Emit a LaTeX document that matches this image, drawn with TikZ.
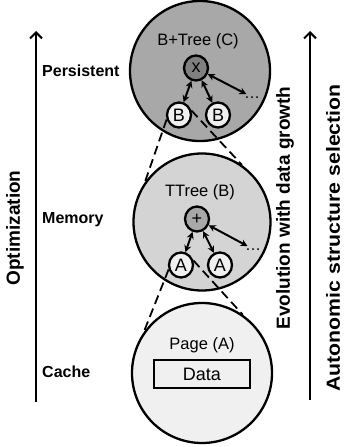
\documentclass[tikz,border=0pt]{standalone}
\usepackage{fontspec}
\setmainfont{Liberation Sans}
\usetikzlibrary{arrows.meta,shapes.geometric}
\definecolor{gTop}{gray}{0.66}
\definecolor{gMid}{gray}{0.83}
\definecolor{gBot}{gray}{0.94}
\definecolor{gX}{gray}{0.5}
\definecolor{gPlus}{gray}{0.66}
\definecolor{gLeaf}{gray}{0.94}
\begin{document}
\begin{tikzpicture}[x=1pt,y=-1pt,
  level/.style={draw, line width=2.3pt, circle, minimum size=140pt, inner sep=0pt},
  tnode/.style={draw, line width=2.3pt, ellipse, inner sep=0pt, minimum width=24pt, minimum height=25pt, font=\fontsize{18}{18}\selectfont},
  title/.style={font=\fontsize{16.5}{16.5}\selectfont, inner sep=0pt},
  link/.style={line width=2pt, {Stealth[length=7pt,width=7pt]}-{Stealth[length=7pt,width=7pt]}},
  zoomline/.style={line width=1.8pt, dash pattern=on 9pt off 5pt},
  lab/.style={font=\fontsize{16}{16}\selectfont\bfseries, anchor=west, inner sep=0pt},
  side/.style={font=\fontsize{19}{19}\selectfont\bfseries, rotate=90, inner sep=0pt},
  axis/.style={line width=2pt, -{Straight Barb[length=6pt,width=12pt,line width=2pt]}},
  dotsn/.style={font=\fontsize{16}{16}\selectfont, inner sep=2pt, anchor=base west}
]
\useasboundingbox (0,0) rectangle (344,447);

% level circles
\node[level, fill=gTop] (C) at (200,71) {};
\node[level, fill=gMid, minimum size=137pt] (Bc) at (202,222) {};
\node[level, fill=gBot] (Ac) at (202,373) {};

% top: B+Tree
\node[title] (tC) at (198,41) {B+Tree (C)};
\node[tnode, fill=gX] (x) at (196,68) {x};
\node[tnode, fill=gLeaf] (b1) at (179,115) {B};
\node[tnode, fill=gLeaf] (b2) at (218,115) {B};
\node[dotsn] (d1) at (242,98) {\ldots};
\draw[link] (x) -- (b1);
\draw[link] (x) -- (b2);
\draw[link] (x) -- (d1);

% middle: TTree
\node[title] (tB) at (200,192) {TTree (B)};
\node[tnode, fill=gPlus] (p) at (197,219) {+};
\node[tnode, fill=gLeaf] (a1) at (181,265) {A};
\node[tnode, fill=gLeaf] (a2) at (220,265) {A};
\node[dotsn] (d2) at (243,250) {\ldots};
\draw[link] (p) -- (a1);
\draw[link] (p) -- (a2);
\draw[link] (p) -- (d2);

% bottom: Page
\node[title] (tA) at (202,345) {Page (A)};
\node[draw, line width=2.3pt, minimum width=96pt, minimum height=28pt, inner sep=0pt, font=\fontsize{18}{18}\selectfont] (data) at (202,374) {Data};

% zoom lines
\draw[zoomline] (b1.200) -- (Bc.145);
\draw[zoomline] (b1.20) -- (Bc.55);
\draw[zoomline] (a1.200) -- (Ac.145);
\draw[zoomline] (a1.20) -- (Ac.55);

% left axis
\coordinate (l0) at (36,402);
\coordinate (l1) at (36,31);
\draw[axis] (l0) -- (l1);
\node[side] (opt) at (15,228) {Optimization};
\node[lab] (pers) at (42,71) {Persistent};
\node[lab] (mem) at (42,220) {Memory};
\node[lab] (cache) at (42,372) {Cache};

% right axis
\coordinate (r0) at (310,400);
\coordinate (r1) at (310,31);
\draw[axis] (r0) -- (r1);
\node[side] (evo) at (285,208) {Evolution with data growth};
\node[side] (auto) at (333,238) {\scalebox{1.12}[1]{Autonomic structure selection}};
\end{tikzpicture}
\end{document}
